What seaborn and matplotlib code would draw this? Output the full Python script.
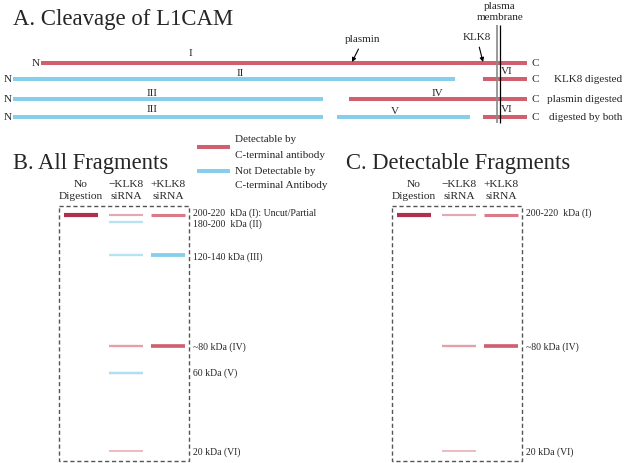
import matplotlib
matplotlib.use("Agg")
import matplotlib.pyplot as plt
import seaborn as sns
from matplotlib.colors import to_rgb

sns.set_theme(style="white")
plt.rcParams["font.family"] = ["Liberation Serif", "DejaVu Serif"]

RED = "#d0606f"
DARK_RED = "#b0304c"
BLUE = "#87ceeb"

# ---- panel A: L1CAM fragments (x in pixel units along the protein)
row_y = [63, 79, 99, 117]
row_tag = ["", "KLK8 digested", "plasmin digested", "digested by both"]
seg_row = [0, 1, 1, 2, 2, 3, 3, 3]
seg_start = [41, 13, 483, 13, 349, 13, 337, 483]
seg_end = [527, 455, 527, 323, 527, 323, 470, 527]
seg_detect = [True, False, True, False, True, False, False, True]
seg_name = ["I", "II", "VI", "III", "IV", "III", "V", "VI"]
name_x = [190, 240, 507, 152, 437, 152, 395, 507]
name_y = [54, 73, 72, 93, 93, 110, 111, 110]

# ---- gels: fragments, migration and labels
frag = ["I", "II", "III", "IV", "V", "VI"]
frag_detect = [True, False, False, True, False, True]
frag_y = [214.5, 222, 254.5, 345.5, 373, 451]
label_b = ["200-220  kDa (I): Uncut/Partial", "180-200  kDa (II)", "120-140 kDa (III)",
           "~80 kDa (IV)", "60 kDa (V)", "20 kDa (VI)"]
label_c = ["200-220  kDa (I)", "", "", "~80 kDa (IV)", "", "20 kDa (VI)"]
label_y = [213.5, 224.5, 257, 347, 373.5, 452]

lanes = ["No\nDigestion", "\u2212KLK8\nsiRNA", "+KLK8\nsiRNA"]
# band intensities per lane (missing = no band)
lane_bands = [
    {"I": 1.0},
    {"I": 0.4, "II": 0.45, "III": 0.45, "IV": 0.45, "V": 0.5, "VI": 0.3},
    {"I": 0.68, "III": 0.9, "IV": 0.85},
]


def mix(color, t):
    r, g, b = to_rgb(color)
    return (1 - t + t * r, 1 - t + t * g, 1 - t + t * b)


fig = plt.figure(figsize=(6.25, 4.63), dpi=100)
ax = fig.add_axes([0, 0, 1, 1])
ax.set_xlim(0, 625)
ax.set_ylim(463, 0)
ax.axis("off")

# panel A
ax.text(13, 25, "A. Cleavage of L1CAM", fontsize=16.4, va="baseline")
for r, s, e, d in zip(seg_row, seg_start, seg_end, seg_detect):
    ax.hlines(row_y[r], s, e, color=RED if d else BLUE, lw=2.9)
for n, x, y in zip(seg_name, name_x, name_y):
    ax.text(x, y, n, fontsize=8, ha="center", va="center")
for i, y in enumerate(row_y):
    nx = 36 if i == 0 else 8
    ax.text(nx, y, "N", fontsize=8, ha="center", va="center")
    ax.text(535, y, "C", fontsize=8, ha="center", va="center")
    if row_tag[i]:
        ax.text(622, y, row_tag[i], fontsize=8, ha="right", va="center")

ax.vlines(497, 25, 123, color="#888888", lw=1.2)
ax.vlines(500, 25, 123, color="black", lw=0.9)
ax.text(500, 12, "plasma\nmembrane", fontsize=8, ha="center", va="center", linespacing=1.3)
ax.annotate("plasmin", xy=(352, 62), xytext=(363, 40), fontsize=8, ha="center", va="center",
            arrowprops=dict(arrowstyle="-|>", color="black", lw=0.8, mutation_scale=6,
                            shrinkA=1, shrinkB=0))
ax.annotate("KLK8", xy=(483, 62), xytext=(477, 38), fontsize=8, ha="center", va="center",
            arrowprops=dict(arrowstyle="-|>", color="black", lw=0.8, mutation_scale=6,
                            shrinkA=1, shrinkB=0))

# legend
ax.hlines(147, 197, 230, color=RED, lw=2.9)
ax.text(235, 140, "Detectable by", fontsize=8, va="center")
ax.text(235, 155, "C-terminal antibody", fontsize=8, va="center")
ax.hlines(171, 197, 230, color=BLUE, lw=2.9)
ax.text(235, 171, "Not Detectable by", fontsize=8, va="center")
ax.text(235, 185, "C-terminal Antibody", fontsize=8, va="center")


def gel(x0, title, labels, only_detect):
    ax.text(x0 - 46, 169, title, fontsize=16.3, va="baseline")
    ax.add_patch(plt.Rectangle((x0, 206), 130, 255, fill=False, ls=(0, (3, 2)),
                               ec="#555555", lw=1.0))
    centers = [x0 + 22, x0 + 67, x0 + 109]
    for cx, name, bands in zip(centers, lanes, lane_bands):
        ax.text(cx, 190.5, name, fontsize=8.2, ha="center", va="center", linespacing=1.4)
        for f, t in bands.items():
            k = frag.index(f)
            if only_detect and not frag_detect[k]:
                continue
            base = (DARK_RED if t >= 0.95 else RED) if frag_detect[k] else BLUE
            ax.hlines(frag_y[k], cx - 17, cx + 17, color=mix(base, min(1, t + 0.15)),
                      lw=0.6 + 2.4 * t)
    for lab, y in zip(labels, label_y):
        if lab:
            ax.text(x0 + 134, y, lab, fontsize=7, va="center")


gel(59, "B. All Fragments", label_b, False)
gel(392, "C. Detectable Fragments", label_c, True)

fig.savefig("out.png", dpi=100)
